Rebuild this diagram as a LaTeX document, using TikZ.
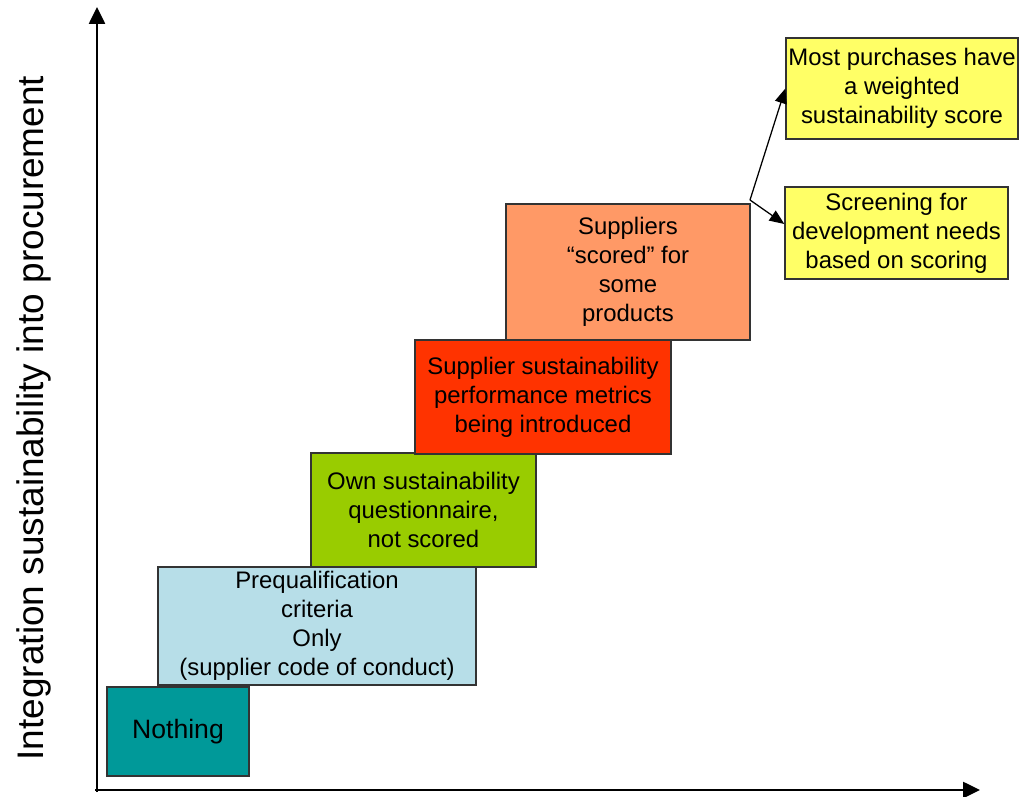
\documentclass[tikz,border=0pt]{standalone}
\usepackage{fontspec}
\setmainfont{Liberation Sans}
\usetikzlibrary{arrows.meta}
\definecolor{nothingcol}{HTML}{009999}
\definecolor{prequalcol}{HTML}{B7DEE8}
\definecolor{owncol}{HTML}{99CC00}
\definecolor{metricscol}{HTML}{FF3300}
\definecolor{scoredcol}{HTML}{FF9966}
\definecolor{topcol}{HTML}{FFFF66}
\tikzset{
  stepbox/.style={draw=black!80, line width=0.9pt, fill=#1, align=center, inner sep=1pt,
    font=\fontsize{17}{20.6}\selectfont},
  branch/.style={line width=0.9pt, -{Triangle[length=3.7mm,width=3mm]}},
}
\begin{document}
\begin{tikzpicture}[line join=miter, >={Triangle[length=4.2mm,width=4mm]}, x=0.025cm, y=-0.025cm]
\useasboundingbox (0,0) rectangle (1019,796);
% axes
\coordinate (origin) at (97,790);
\coordinate (xend) at (980,790);
\coordinate (yend) at (97,7);
\draw[line width=1.4pt,->] ([xshift=-0.05cm]origin) -- (xend);
\draw[line width=1.4pt,->] ([yshift=-0.05cm]origin) -- (yend);
\node[rotate=90, font=\fontsize{26.3}{30}\selectfont] (ylabel) at (34,418) {Integration sustainability into procurement};
% steps
\node[stepbox=nothingcol, minimum width=3.55cm, minimum height=2.225cm, font=\fontsize{18.9}{22}\selectfont] (nothing) at (178,731.5) {Nothing};
\node[stepbox=prequalcol, minimum width=7.95cm, minimum height=2.95cm] (prequal) at (317,626) {Prequalification\\criteria\\Only\\(supplier code of conduct)};
\node[stepbox=owncol, minimum width=5.625cm, minimum height=2.85cm] (own) at (423.5,510) {Own sustainability\\questionnaire,\\not scored};
\node[stepbox=metricscol, minimum width=6.4cm, minimum height=2.85cm] (metrics) at (543,397) {Supplier sustainability\\performance metrics\\being introduced};
\node[stepbox=scoredcol, minimum width=6.1cm, minimum height=3.4cm] (scored) at (628,272) {Suppliers\\“scored” for\\some\\products};
\node[stepbox=topcol, minimum width=5.8cm, minimum height=2.525cm] (weighted) at (902,88.5) {Most purchases have\\a weighted\\sustainability score};
\node[stepbox=topcol, minimum width=5.575cm, minimum height=2.3cm] (screening) at (896.5,233) {Screening for\\development needs\\based on scoring};
% branches
\coordinate (fork) at (750,200);
\draw[branch] (fork) -- (weighted.west);
\draw[branch] (fork) -- ([yshift=0.225cm]screening.west);
\end{tikzpicture}
\end{document}
